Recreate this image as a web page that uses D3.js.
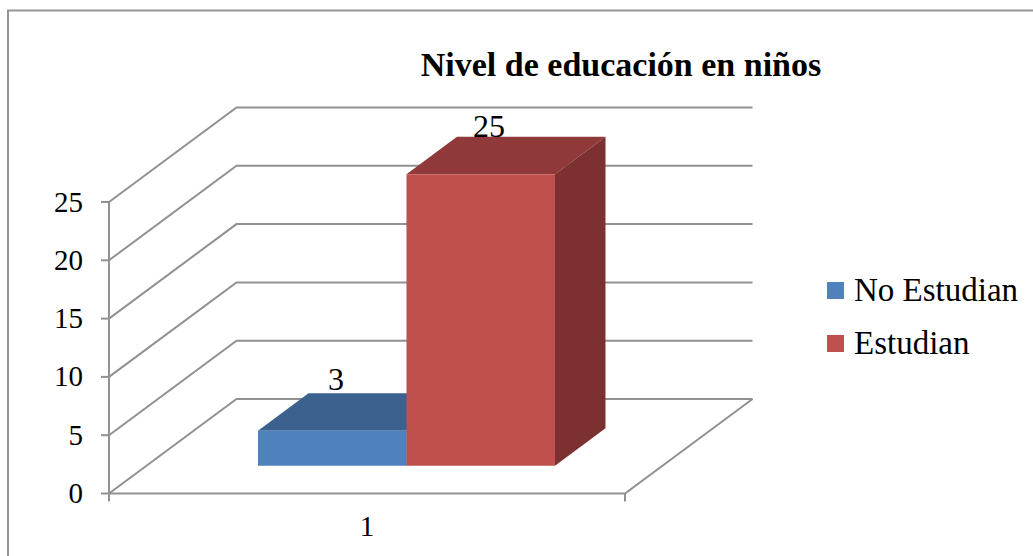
<!DOCTYPE html>
<html><head><meta charset="utf-8">
<script src="https://cdn.jsdelivr.net/npm/d3@7/dist/d3.min.js"></script>
<style>html,body{margin:0;padding:0;background:#fff}svg{display:block}text{font-family:"Liberation Serif",serif;fill:#000}</style>
</head><body><svg id="c" width="1033" height="556"></svg>
<script>
const title = "Nivel de educación en niños";
const categories = ["1"];
const seriesNames = ["No Estudian", "Estudian"];
const seriesValues = [3, 25];
const frontColors = ["#4f81bd", "#c0504d"];
const topColors = ["#3c618e", "#90393a"];
const sideColors = ["#315074", "#7c3030"];
const yTicks = [0, 5, 10, 15, 20, 25];

const svg = d3.select("#c");
const grid = "#919191";
svg.append("path").attr("d","M8,556V10.5H1033").attr("fill","none").attr("stroke","#949494").attr("stroke-width",2);

const y = d3.scaleLinear().domain([0,25]).range([493.5,202]);
const x = d3.scaleBand().domain(categories).range([109,625]);
const depthX = d3.scaleLinear().domain([0,1]).range([0,127.5]);
const depthY = d3.scaleLinear().domain([0,1]).range([0,-94.5]);
const px = (xv,d)=>xv+depthX(d);
const py = (v,d)=>y(v)+depthY(d);
const line = d3.line();

const g = svg.append("g").attr("fill","none").attr("stroke",grid).attr("stroke-width",2);
yTicks.forEach(t=>{
  g.append("path").attr("d",line([[x.range()[0],py(t,0)],[px(x.range()[0],1),py(t,1)],[px(x.range()[1],1),py(t,1)]]));
  g.append("path").attr("d",line([[x.range()[0]-8,py(t,0)],[x.range()[0],py(t,0)]]));
});
g.append("path").attr("d",line([[x.range()[0],py(0,0)],[x.range()[1],py(0,0)],[px(x.range()[1],1),py(0,1)]]));
g.append("path").attr("d",line([[x.range()[0],py(25,0)],[x.range()[0],py(0,0)+8]]));
g.append("path").attr("d",line([[x.range()[1],py(0,0)],[x.range()[1],py(0,0)+8]]));

const inner = d3.scaleBand().domain(seriesNames).range([x("1")+149,x("1")+149+297]).paddingInner(0);
const dFront = 0.294, dBack = 0.69;
seriesNames.forEach((name,i)=>{
  const bg = svg.append("g");
  const x0 = inner(name)-37.5+depthX(dFront), x1 = x0+inner.bandwidth();
  const v = seriesValues[i];
  const dd = depthX(dBack-dFront);
  const poly=(pts,c)=>bg.append("path").attr("d",line(pts)+"Z").attr("fill",c);
  poly([[x0,py(v,dFront)],[x0+dd,py(v,dBack)],[x1+dd,py(v,dBack)],[x1,py(v,dFront)]],topColors[i]);
  poly([[x1,py(0,dFront)],[x1,py(v,dFront)],[x1+dd,py(v,dBack)],[x1+dd,py(0,dBack)]],sideColors[i]);
  poly([[x0,py(0,dFront)],[x0,py(v,dFront)],[x1,py(v,dFront)],[x1,py(0,dFront)]],frontColors[i]);
});

yTicks.forEach(t=>svg.append("text").attr("x",83).attr("y",py(t,0)+9.5).attr("text-anchor","end").attr("font-size",29).text(t));
svg.append("text").attr("x",x("1")+x.bandwidth()/2).attr("y",536).attr("text-anchor","middle").attr("font-size",29).text(categories[0]);
svg.append("text").attr("x",336).attr("y",390).attr("text-anchor","middle").attr("font-size",32).text(seriesValues[0]);
svg.append("text").attr("x",489).attr("y",137).attr("text-anchor","middle").attr("font-size",32).text(seriesValues[1]);
svg.append("text").attr("x",621).attr("y",76).attr("text-anchor","middle").attr("font-size",34).attr("font-weight","bold").text(title);

seriesNames.forEach((n,i)=>{
  const yy = 282+i*53;
  svg.append("rect").attr("x",827).attr("y",yy).attr("width",17).attr("height",17).attr("fill",frontColors[i]);
  svg.append("text").attr("x",854).attr("y",yy+19).attr("font-size",33).text(n);
});
</script></body></html>
